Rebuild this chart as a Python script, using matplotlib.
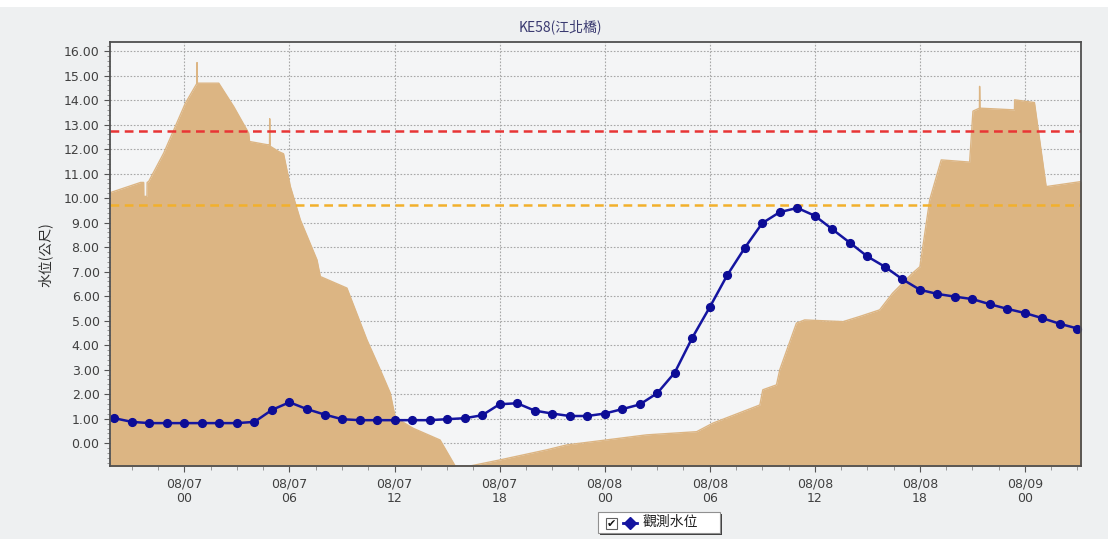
import matplotlib
matplotlib.use("Agg")
import matplotlib.pyplot as plt
from matplotlib.patches import Rectangle
from matplotlib.lines import Line2D
from matplotlib.ticker import MultipleLocator, FixedLocator

# ---------------- data ----------------
title = "KE58(江北橋)"
ylabel = "水位(公尺)"
legend_label = "觀測水位"

# observed water level, hourly, hours relative to 08/07 00:00
obs_hours = list(range(-4, 52))
obs_level = [1.02, 0.87, 0.82, 0.82, 0.82, 0.82, 0.82, 0.82, 0.87, 1.36,
             1.67, 1.39, 1.17, 0.98, 0.94, 0.94, 0.94, 0.94, 0.94, 0.98,
             1.02, 1.14, 1.59, 1.63, 1.33, 1.21, 1.11, 1.11, 1.21, 1.39,
             1.58, 2.04, 2.88, 4.30, 5.55, 6.86, 7.97, 8.98, 9.43, 9.60,
             9.28, 8.73, 8.18, 7.62, 7.20, 6.69, 6.26, 6.09, 5.98, 5.88,
             5.67, 5.48, 5.31, 5.10, 4.87, 4.68]

# background (tan) series outline, hours / value
bg_hours = [-4.25, -2.50, -2.33, -2.32, -2.14, -2.13, -2.04, -1.18, 0.06, 0.72,
            0.72, 0.74, 1.96, 2.81, 3.67, 3.72, 4.72, 4.86, 4.87, 4.89,
            5.38, 5.66, 6.05, 6.62, 7.57, 7.76, 9.28, 10.42, 11.18, 11.75,
            12.04, 13.06, 14.60, 15.46, 16.31, 18.03, 20.69, 21.83, 24.06, 26.39,
            29.25, 30.18, 32.86, 33.03, 33.81, 34.00, 34.95, 35.42, 37.61, 38.56,
            39.70, 40.44, 41.58, 42.00, 42.56, 43.22, 44.84, 45.03, 45.40, 45.41,
            45.43, 47.40, 47.41, 48.54, 49.21, 51.25]
bg_level = [10.22, 10.64, 10.64, 10.07, 10.07, 10.64, 10.68, 11.84, 13.88, 14.69,
            15.53, 14.69, 14.69, 13.74, 12.65, 12.31, 12.18, 12.18, 13.24, 12.12,
            11.90, 11.81, 10.47, 9.11, 7.48, 6.80, 6.33, 4.22, 3.00, 2.05,
            1.05, 0.61, 0.13, -0.93, -0.93, -0.68, -0.27, -0.07, 0.13, 0.34,
            0.47, 0.82, 1.56, 2.18, 2.38, 3.00, 4.90, 5.03, 4.96, 5.17,
            5.44, 6.12, 6.94, 7.20, 9.93, 11.56, 11.47, 13.55, 13.67, 14.56,
            13.67, 13.60, 14.01, 13.90, 10.47, 10.68]

warn_red = 12.75
warn_orange = 9.70

xtick_pos = [0, 6, 12, 18, 24, 30, 36, 42, 48]
xtick_labels = ["08/07\n00", "08/07\n06", "08/07\n12", "08/07\n18",
                "08/08\n00", "08/08\n06", "08/08\n12", "08/08\n18", "08/09\n00"]

# ---------------- figure ----------------
W, H = 1108, 539
fig = plt.figure(figsize=(W / 100, H / 100), dpi=100, facecolor="#eef0f1")
fig.patches.append(Rectangle((0, 1 - 7 / H), 1, 7 / H, transform=fig.transFigure,
                             facecolor="white", edgecolor="none", zorder=0))

ax = fig.add_axes([110 / W, 1 - 466 / H, (1081 - 110) / W, (466 - 42) / H])
ax.set_facecolor("#f4f5f6")

tan = "#dcb583"
ybot = -0.93
ax.fill_between(bg_hours, bg_level, ybot - 5, color=tan, linewidth=0, zorder=2)
ax.plot(bg_hours, bg_level, color=tan, lw=1.0, zorder=2)

ax.axhline(warn_red, color="#e83535", lw=1.8, ls=(0, (3.5, 2.2)), zorder=3)
ax.axhline(warn_orange, color="#f2b02c", lw=1.8, ls=(0, (3.5, 2.2)), zorder=3)

ax.plot(obs_hours, obs_level, color="#1515a0", lw=1.8, marker="o", ms=5.6,
        markerfacecolor="#0c0c96", markeredgecolor="#0c0c96", zorder=5,
        clip_on=False)

ax.set_xlim(-4.25, 51.2)
ax.set_ylim(ybot, 16.37)

ax.xaxis.set_major_locator(FixedLocator(xtick_pos))
ax.set_xticklabels(xtick_labels)
ax.xaxis.set_minor_locator(MultipleLocator(1.5))
ax.yaxis.set_major_locator(MultipleLocator(1))
ax.yaxis.set_minor_locator(MultipleLocator(0.2))
ax.yaxis.set_major_formatter(matplotlib.ticker.FormatStrFormatter("%.2f"))

ax.tick_params(axis="both", which="major", labelsize=9, colors="#555555",
               labelcolor="#404040", length=4, width=0.8)
ax.tick_params(axis="both", which="minor", colors="#888888", length=2, width=0.6)
ax.tick_params(axis="x", which="major", pad=4)
ax.tick_params(axis="x", which="minor", length=3)

ax.grid(True, which="major", color="#a8a8a8", lw=0.8, ls=(0, (1.5, 1.5)), zorder=1)
ax.set_axisbelow(True)

for s in ax.spines.values():
    s.set_color("#505050")
    s.set_linewidth(1.3)
    s.set_zorder(6)

cjk = ["Noto Sans CJK TC", "DejaVu Sans"]
fig.text(560 / W, 1 - 27 / H, title, ha="center", va="center", fontsize=10,
         color="#3a3a70", family=cjk)
fig.text(45 / W, 1 - 255 / H, ylabel, ha="center", va="center", rotation=90,
         fontsize=10, color="#303030", family=cjk)

# legend box
lx0, lx1, ly0, ly1 = 598, 720, 512, 533
fig.patches.append(Rectangle((lx0 / W + 2 / W, 1 - (ly1 + 2) / H), (lx1 - lx0) / W,
                             (ly1 - ly0) / H, transform=fig.transFigure,
                             facecolor="#404040", edgecolor="none", zorder=3))
fig.patches.append(Rectangle((lx0 / W, 1 - ly1 / H), (lx1 - lx0) / W, (ly1 - ly0) / H,
                             transform=fig.transFigure, facecolor="white",
                             edgecolor="#909090", lw=0.8, zorder=4))
fig.patches.append(Rectangle((606 / W, 1 - 529 / H), 11 / W, 11 / H,
                             transform=fig.transFigure, facecolor="white",
                             edgecolor="#606060", lw=0.8, zorder=5))
fig.text(611.5 / W, 1 - 523.5 / H, "✔", ha="center", va="center", fontsize=8,
         color="#111111", family="DejaVu Sans", zorder=6)
fig.add_artist(Line2D([623 / W, 637 / W], [1 - 523 / H, 1 - 523 / H],
                      transform=fig.transFigure, color="#1515a0", lw=2, zorder=6))
fig.add_artist(Line2D([630 / W], [1 - 523 / H], transform=fig.transFigure,
                      color="#1515a0", marker="D", ms=6, lw=0, zorder=7))
fig.text(643 / W, 1 - 522 / H, legend_label, ha="left", va="center", fontsize=10,
         color="#202020", family=cjk, zorder=6)

fig.savefig("out.png", dpi=100, facecolor=fig.get_facecolor())
